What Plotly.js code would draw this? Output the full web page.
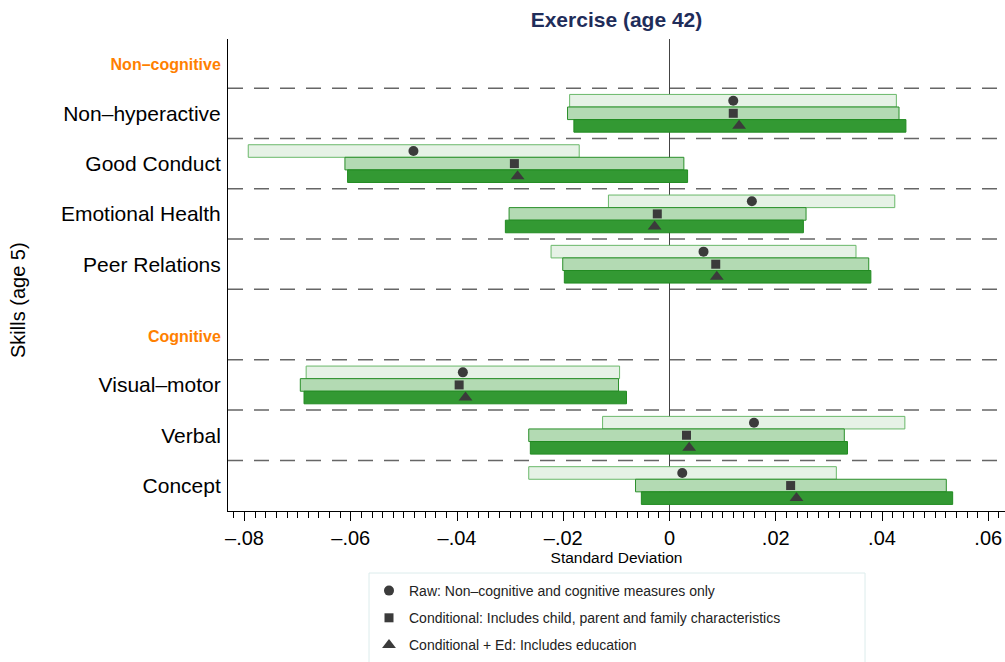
<!DOCTYPE html>
<html>
<head>
<meta charset="utf-8">
<script src="https://cdn.plot.ly/plotly-3.0.1.min.js"></script>
<style>html,body{margin:0;padding:0;background:#fff;}#chart{width:1005px;height:662px;}</style>
</head>
<body>
<div id="chart"></div>
<script>
// ---- data ----
const labels = ["Non–cognitive","Non–hyperactive","Good Conduct","Emotional Health","Peer Relations","Cognitive","Visual–motor","Verbal","Concept"];
const isHeader = [true,false,false,false,false,true,false,false,false];
const skills = ["Non–hyperactive","Good Conduct","Emotional Health","Peer Relations","Visual–motor","Verbal","Concept"];

const rawPoint = [0.0120, -0.0482, 0.0155, 0.0064, -0.0389, 0.0159, 0.0024];
const rawLow   = [-0.0188, -0.0793, -0.0115, -0.0223, -0.0684, -0.0126, -0.0265];
const rawHigh  = [0.0427, -0.0170, 0.0424, 0.0351, -0.0094, 0.0443, 0.0314];

const condPoint = [0.0120, -0.0292, -0.0023, 0.0087, -0.0396, 0.0032, 0.0228];
const condLow   = [-0.0192, -0.0611, -0.0302, -0.0201, -0.0695, -0.0265, -0.0064];
const condHigh  = [0.0432, 0.0027, 0.0257, 0.0375, -0.0096, 0.0329, 0.0521];

const edPoint = [0.0131, -0.0286, -0.0028, 0.0089, -0.0384, 0.0037, 0.0239];
const edLow   = [-0.0180, -0.0606, -0.0309, -0.0198, -0.0688, -0.0262, -0.0053];
const edHigh  = [0.0445, 0.0034, 0.0252, 0.0379, -0.0081, 0.0335, 0.0533];

const seriesNames = ["Raw: Non–cognitive and cognitive measures only","Conditional: Includes child, parent and family characteristics","Conditional + Ed: Includes education"];

const xTickVals = [-0.08,-0.06,-0.04,-0.02,0,0.02,0.04,0.06];
const xTickText = ["–.08","–.06","–.04","–.02","0",".02",".04",".06"];

// ---- layout helpers ----
const GAP = 0.4;
const pos = labels.map((l,i)=> i + (i>=5 ? GAP : 0));
const skillPos = skills.map(s => pos[labels.indexOf(s)]);
const OFF = [-0.25, 0, 0.25];

const fills = ["#e6f2e6","#b3dab3","#339933"];
const lines = ["#6ab86a","#2a8f2a","#228b22"];
const symbols = ["circle","square","triangle-up"];
const msizes = [10,9,12];
const all = [[rawPoint,rawLow,rawHigh],[condPoint,condLow,condHigh],[edPoint,edLow,edHigh]];

const traces = [];
all.forEach((s,k)=>{
  traces.push({
    type:'bar', orientation:'h',
    y: skillPos.map(p=>p+OFF[k]),
    x: s[2].map((h,i)=>h - s[1][i]),
    base: s[1],
    width: 0.25,
    marker:{color:fills[k], line:{color:lines[k], width:1}},
    showlegend:false, hoverinfo:'skip'
  });
});
all.forEach((s,k)=>{
  traces.push({
    type:'scatter', mode:'markers',
    y: skillPos.map(p=>p+OFF[k]),
    x: s[0],
    name: seriesNames[k],
    legendgroup: 'g'+k,
    marker:{symbol:symbols[k], size:msizes[k], color:'#3b3b3b'},
    showlegend:true
  });
});

const tickText = labels.map((l,i)=> isHeader[i]
  ? '<span style="font-size:16px;fill:#ff8000;font-weight:bold">'+l+'</span>'
  : l);

// plot area in pixels (for legend box placement)
const PL = 228, PW = 777, PT = 39, PH = 472;

const shapes = [];
for (let i=0;i<labels.length-1;i++){
  shapes.push({type:'line', xref:'paper', x0:0, x1:1, yref:'y', y0:pos[i]+0.5, y1:pos[i]+0.5,
    line:{color:'#666666', width:1.5, dash:'15px,11px'}, layer:'below'});
}
// legend frame
shapes.push({type:'rect', xref:'paper', yref:'paper',
  x0:(369-PL)/PW, x1:(865-PL)/PW, y0:(PT+PH-680)/PH, y1:(PT+PH-573)/PH,
  line:{color:'#dcecec', width:1}, fillcolor:'rgba(0,0,0,0)', layer:'above'});

const layout = {
  width:1005, height:662,
  margin:{l:PL, r:0, t:PT, b:662-PT-PH, autoexpand:false},
  paper_bgcolor:'#fff', plot_bgcolor:'#fff',
  font:{family:'"Liberation Sans", Arial, sans-serif', color:'#000'},
  barmode:'overlay',
  title:{text:'<b>Exercise (age 42)</b>', font:{size:21, color:'#1f2d5a'}, xref:'paper', x:0.5, xanchor:'center', yref:'container', y:1-20/662, yanchor:'middle'},
  xaxis:{
    range:[-0.08311, 0.06315], tickmode:'array', tickvals:xTickVals, ticktext:xTickText, tickangle:0,
    ticks:'outside', ticklen:9, tickcolor:'#000', tickwidth:1,
    tickfont:{size:20}, showgrid:false, zeroline:true, zerolinecolor:'#444', zerolinewidth:1,
    showline:true, linecolor:'#000', linewidth:1, automargin:false,
    minor:{tickmode:'linear', tick0:0, dtick:0.002, ticks:'outside', ticklen:6, tickcolor:'#000', showgrid:false},
    title:{text:'Standard Deviation', font:{size:15.5}, standoff:3}
  },
  yaxis:{
    range:[pos[pos.length-1]+0.506, -0.477], tickmode:'array', tickvals:pos, ticktext:tickText,
    ticks:'', tickfont:{size:21}, showgrid:false, zeroline:false,
    showline:true, linecolor:'#000', linewidth:1, automargin:false, ticklabelstandoff:2
  },
  shapes:shapes,
  legend:{xref:'container', yref:'container', x:369/1005, y:1-575/662, xanchor:'left', yanchor:'top',
    borderwidth:0, bgcolor:'rgba(0,0,0,0)', font:{size:14, color:'#222'}, tracegroupgap:6, traceorder:'grouped'},
  showlegend:true
};
layout.annotations = [{text:'Skills (age 5)', textangle:-90, xref:'paper', yref:'paper',
  x:-210/PW, y:(PT+PH-300)/PH, xanchor:'center', yanchor:'middle', showarrow:false, font:{size:20}}];

Plotly.newPlot('chart', traces, layout, {displayModeBar:false, staticPlot:true});
</script>
</body>
</html>
